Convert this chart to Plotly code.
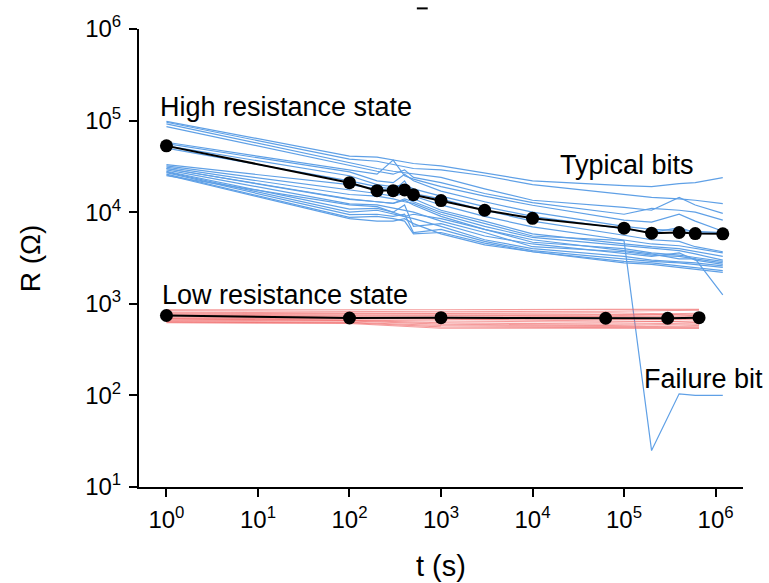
import math
import plotly.graph_objects as go

# ---------------- data ----------------
# High resistance state (HRS) time points and bit traces (Ohm)
t_hrs = [1, 100, 200, 300, 400, 500, 1e3, 3e3, 1e4, 1e5, 2e5, 4e5, 6e5, 1.2e6]
hrs_bits = [
    [98000, 41000, 40000, 37000, 35000, 34000, 32000, 27000, 22000, 19500, 19000, 20500, 21000, 23800],
    [96000, 38000, 36000, 33000, 31000, 30000, 29000, 25000, 20000, 15600, 14500, 14000, 13500, 12400],
    [92000, 34600, 30000, 28000, 27000, 26000, 24000, 18000, 13500, 11300, 10500, 14500, 12000, 9700],
    [86000, 32000, 28000, 26000, 29000, 24000, 21000, 16000, 12700, 9500, 11000, 10500, 10000, 8200],
    [58000, 29000, 26000, 37000, 25000, 23000, 19000, 15000, 11900, 8200, 7800, 9500, 8000, 6200],
    [56000, 27500, 22000, 21000, 26000, 22000, 17000, 13000, 10000, 7000, 6500, 6300, 6100, 6000],
    [53000, 25000, 20000, 19000, 20000, 18000, 15000, 11500, 9000, 6500, 6000, 6800, 6000, 5900],
    [50000, 22000, 19000, 18000, 17000, 16000, 14000, 10500, 8000, 5600, 5000, 4800, 4200, 3700],
    [33000, 20000, 18000, 17000, 22000, 15000, 12000, 9000, 6900, 5000, 4500, 4300, 4000, 3600],
    [32000, 17700, 16000, 15000, 16000, 14000, 10500, 8000, 5800, 4500, 4200, 4000, 3700, 3300],
    [31000, 15600, 15000, 14000, 13000, 12500, 9500, 7000, 5300, 4300, 4000, 3800, 3500, 3000],
    [30000, 13800, 13000, 12500, 13500, 12000, 9000, 6500, 4700, 4000, 3600, 3400, 3200, 2900],
    [29000, 12300, 12000, 11000, 10500, 10000, 8000, 6000, 4200, 3700, 3400, 3300, 3100, 2800],
    [28000, 10800, 11000, 10000, 12000, 7000, 7500, 5500, 4500, 3500, 3300, 3600, 3000, 2700],
    [27500, 10000, 10500, 9500, 9000, 8500, 7000, 5000, 4000, 3300, 3000, 2900, 2800, 2600],
    [27000, 9400, 9500, 9000, 9500, 6000, 6500, 4800, 3800, 3100, 2900, 2800, 2700, 2500],
    [26000, 8800, 9000, 8500, 8000, 5800, 6000, 4600, 3700, 2900, 2800, 2600, 2500, 2300],
    [25500, 8500, 8000, 8000, 8500, 7500, 5800, 4400, 3700, 2800, 2700, 2500, 2400, 2200],
    [25000, 12000, 11500, 10000, 9000, 9500, 8500, 6500, 5000, 3800, 3500, 3100, 3100, 1250],
]
failure_bit = [30000, 14000, 13000, 12500, 14000, 13000, 10000, 7500, 5500, 4900, 25, 104, 100, 100]
hrs_mean = [53000, 21000, 17200, 17200, 17500, 15500, 13400, 10500, 8570, 6700, 5900, 6000, 5850, 5800]

# Low resistance state (LRS)
t_lrs = [1, 100, 1e3, 6.3e4, 3e5, 6.6e5]
lrs_bits = [
    [860, 850, 860, 870, 860, 870],
    [840, 830, 820, 830, 840, 850],
    [810, 800, 790, 800, 780, 790],
    [790, 780, 770, 760, 770, 760],
    [770, 760, 750, 740, 760, 740],
    [750, 740, 730, 720, 730, 720],
    [740, 720, 710, 700, 690, 700],
    [720, 700, 690, 680, 670, 680],
    [700, 690, 680, 650, 640, 650],
    [690, 670, 650, 630, 640, 620],
    [680, 660, 620, 600, 610, 600],
    [660, 650, 600, 580, 590, 580],
    [640, 630, 580, 570, 560, 560],
    [630, 620, 560, 550, 550, 545],
    [620, 610, 540, 540, 545, 540],
]
lrs_mean = [745, 700, 705, 695, 695, 705]

x_tick_vals = [1, 10, 100, 1e3, 1e4, 1e5, 1e6]
x_tick_text = ["10<sup>0</sup>", "10<sup>1</sup>", "10<sup>2</sup>", "10<sup>3</sup>",
               "10<sup>4</sup>", "10<sup>5</sup>", "10<sup>6</sup>"]
y_tick_vals = [10, 100, 1e3, 1e4, 1e5, 1e6]
y_tick_text = ["10<sup>1</sup>", "10<sup>2</sup>", "10<sup>3</sup>",
               "10<sup>4</sup>", "10<sup>5</sup>", "10<sup>6</sup>"]

# ---------------- figure ----------------
BLUE = "rgb(95,160,230)"
RED = "rgba(240,100,100,0.65)"
FONT = "Liberation Sans, Arial, sans-serif"
X_RANGE = [-0.3, 6.3]
Y_RANGE = [1, 6]
PLOT_W = 769 - 139 - 26
PLOT_H = 583 - 25 - 96

fig = go.Figure()
for b in hrs_bits:
    fig.add_trace(go.Scatter(x=t_hrs, y=b, mode="lines",
                             line=dict(color=BLUE, width=1.2), hoverinfo="skip"))
fig.add_trace(go.Scatter(x=t_hrs, y=failure_bit, mode="lines",
                         line=dict(color=BLUE, width=1.2), hoverinfo="skip"))
for b in lrs_bits:
    fig.add_trace(go.Scatter(x=t_lrs, y=b, mode="lines",
                             line=dict(color=RED, width=1.1), hoverinfo="skip"))
fig.add_trace(go.Scatter(x=t_hrs, y=hrs_mean, mode="lines+markers",
                         line=dict(color="black", width=2),
                         marker=dict(color="black", size=13)))
fig.add_trace(go.Scatter(x=t_lrs, y=lrs_mean, mode="lines+markers",
                         line=dict(color="black", width=2),
                         marker=dict(color="black", size=13)))

# minor (2..9 per decade) tick marks, drawn as short line markers just outside the axes
minor_x = [m * 10 ** e for e in range(-1, 7) for m in range(2, 10)
           if X_RANGE[0] <= math.log10(m * 10 ** e) <= X_RANGE[1]]
minor_y = [m * 10 ** e for e in range(1, 6) for m in range(2, 10)]
off_px = 3.5
y_below = 10 ** (Y_RANGE[0] - off_px * (Y_RANGE[1] - Y_RANGE[0]) / PLOT_H)
x_left = 10 ** (X_RANGE[0] - off_px * (X_RANGE[1] - X_RANGE[0]) / PLOT_W)
fig.add_trace(go.Scatter(x=minor_x, y=[y_below] * len(minor_x), mode="markers",
                         cliponaxis=False, hoverinfo="skip",
                         marker=dict(symbol="line-ns", size=5, color="black",
                                     line=dict(color="black", width=2))))
fig.add_trace(go.Scatter(x=[x_left] * len(minor_y), y=minor_y, mode="markers",
                         cliponaxis=False, hoverinfo="skip",
                         marker=dict(symbol="line-ew", size=5, color="black",
                                     line=dict(color="black", width=2))))

axis_common = dict(
    type="log", showgrid=False, zeroline=False, showline=True,
    linecolor="black", linewidth=2, ticks="outside", ticklen=8, tickwidth=2,
    tickcolor="black", tickfont=dict(family=FONT, size=24, color="black"),
    tickmode="array", mirror=False,
)

ann_font = dict(family=FONT, size=27, color="black")
annotations = [
    dict(text="High resistance state", x=0.031, y=0.829, xanchor="left", yanchor="middle"),
    dict(text="Typical bits", x=0.808, y=0.703, xanchor="center", yanchor="middle"),
    dict(text="Low resistance state", x=0.035, y=0.42, xanchor="left", yanchor="middle"),
    dict(text="Failure bit", x=0.935, y=0.236, xanchor="center", yanchor="middle"),
    dict(text="t (s)", x=0.5, y=-0.173, xanchor="center", yanchor="middle",
         font=dict(family=FONT, size=29, color="black")),
    dict(text="R (Ω)", x=-0.18, y=0.5, xanchor="center", yanchor="middle", textangle=-90,
         font=dict(family=FONT, size=28, color="black")),
]
for a in annotations:
    a.setdefault("font", ann_font)
    a.update(xref="paper", yref="paper", showarrow=False)

fig.update_layout(
    width=769, height=583,
    margin=dict(l=139, r=26, t=25, b=96),
    paper_bgcolor="white", plot_bgcolor="white",
    showlegend=False,
    xaxis=dict(**axis_common, range=X_RANGE, tickvals=x_tick_vals, ticktext=x_tick_text,
               ticklabelstandoff=2),
    yaxis=dict(**axis_common, range=Y_RANGE, tickvals=y_tick_vals, ticktext=y_tick_text,
               ticklabelstandoff=3),
    annotations=annotations,
    shapes=[dict(type="line", xref="paper", yref="paper",
                 x0=0.46, x1=0.478, y0=1.045, y1=1.045,
                 line=dict(color="black", width=2))],
)

fig.write_html("out.html")
